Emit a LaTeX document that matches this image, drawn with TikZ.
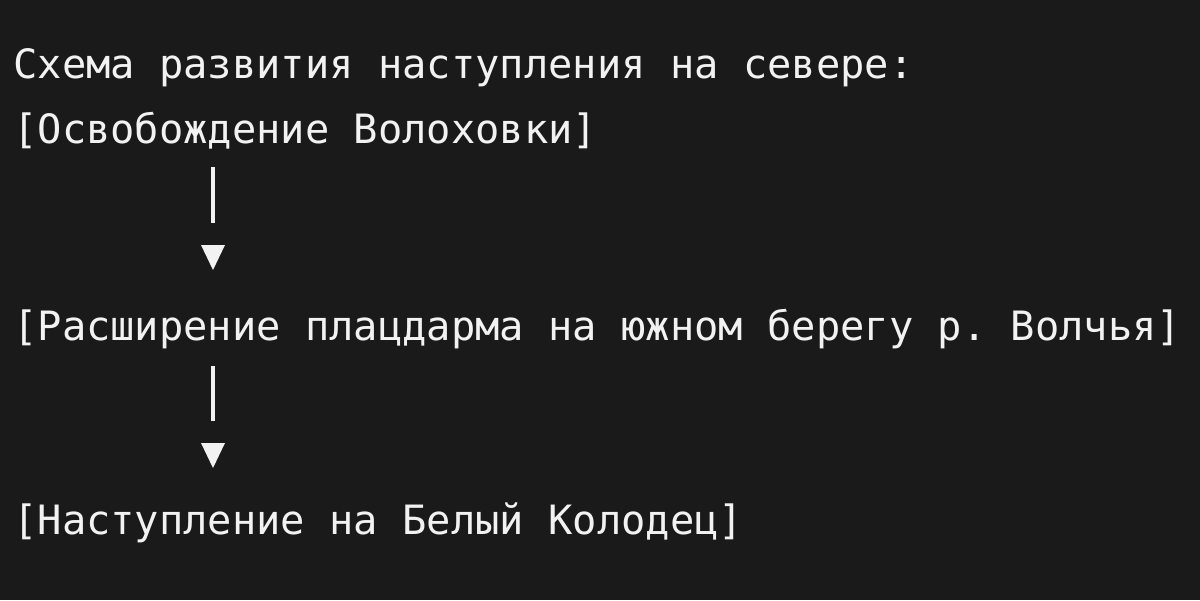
\documentclass[tikz,border=0pt]{standalone}
\usepackage{fontspec}
\setmonofont{DejaVu Sans Mono}
\definecolor{bg}{HTML}{1A1A1A}
\definecolor{fg}{HTML}{F2F2F2}

\begin{document}
\begin{tikzpicture}[x=0.02cm,y=-0.02cm,
  row/.style={anchor=base west,inner sep=0pt,text=fg,font=\ttfamily\fontsize{23}{28}\selectfont},
  bar/.style={draw=fg,line width=2pt}]
  \fill[bg] (0,0) rectangle (1200,600);
  \useasboundingbox (0,0) rectangle (1200,600);
  \node[row] (T) at (13,78) {Схема развития наступления на севере:};
  \node[row] (A) at (13,143) {[Освобождение Волоховки]};
  \node[row] (B) at (13,340) {[Расширение плацдарма на южном берегу р. Волчья]};
  \node[row] (C) at (13,534) {[Наступление на Белый Колодец]};
  \coordinate (A1) at (213,167); % bar under A
  \coordinate (A2) at (213,223);
  \coordinate (A3) at (213,270); % tip
  \coordinate (B1) at (213,366); % bar under B
  \coordinate (B2) at (213,421);
  \coordinate (B3) at (213,468); % tip
  \draw[bar] (A1) -- (A2);
  \draw[bar] (B1) -- (B2);
  \fill[fg] (A3) -- ++(-12,-25) -- ++(24,0) -- cycle;
  \fill[fg] (B3) -- ++(-12,-25) -- ++(24,0) -- cycle;
\end{tikzpicture}
\end{document}
